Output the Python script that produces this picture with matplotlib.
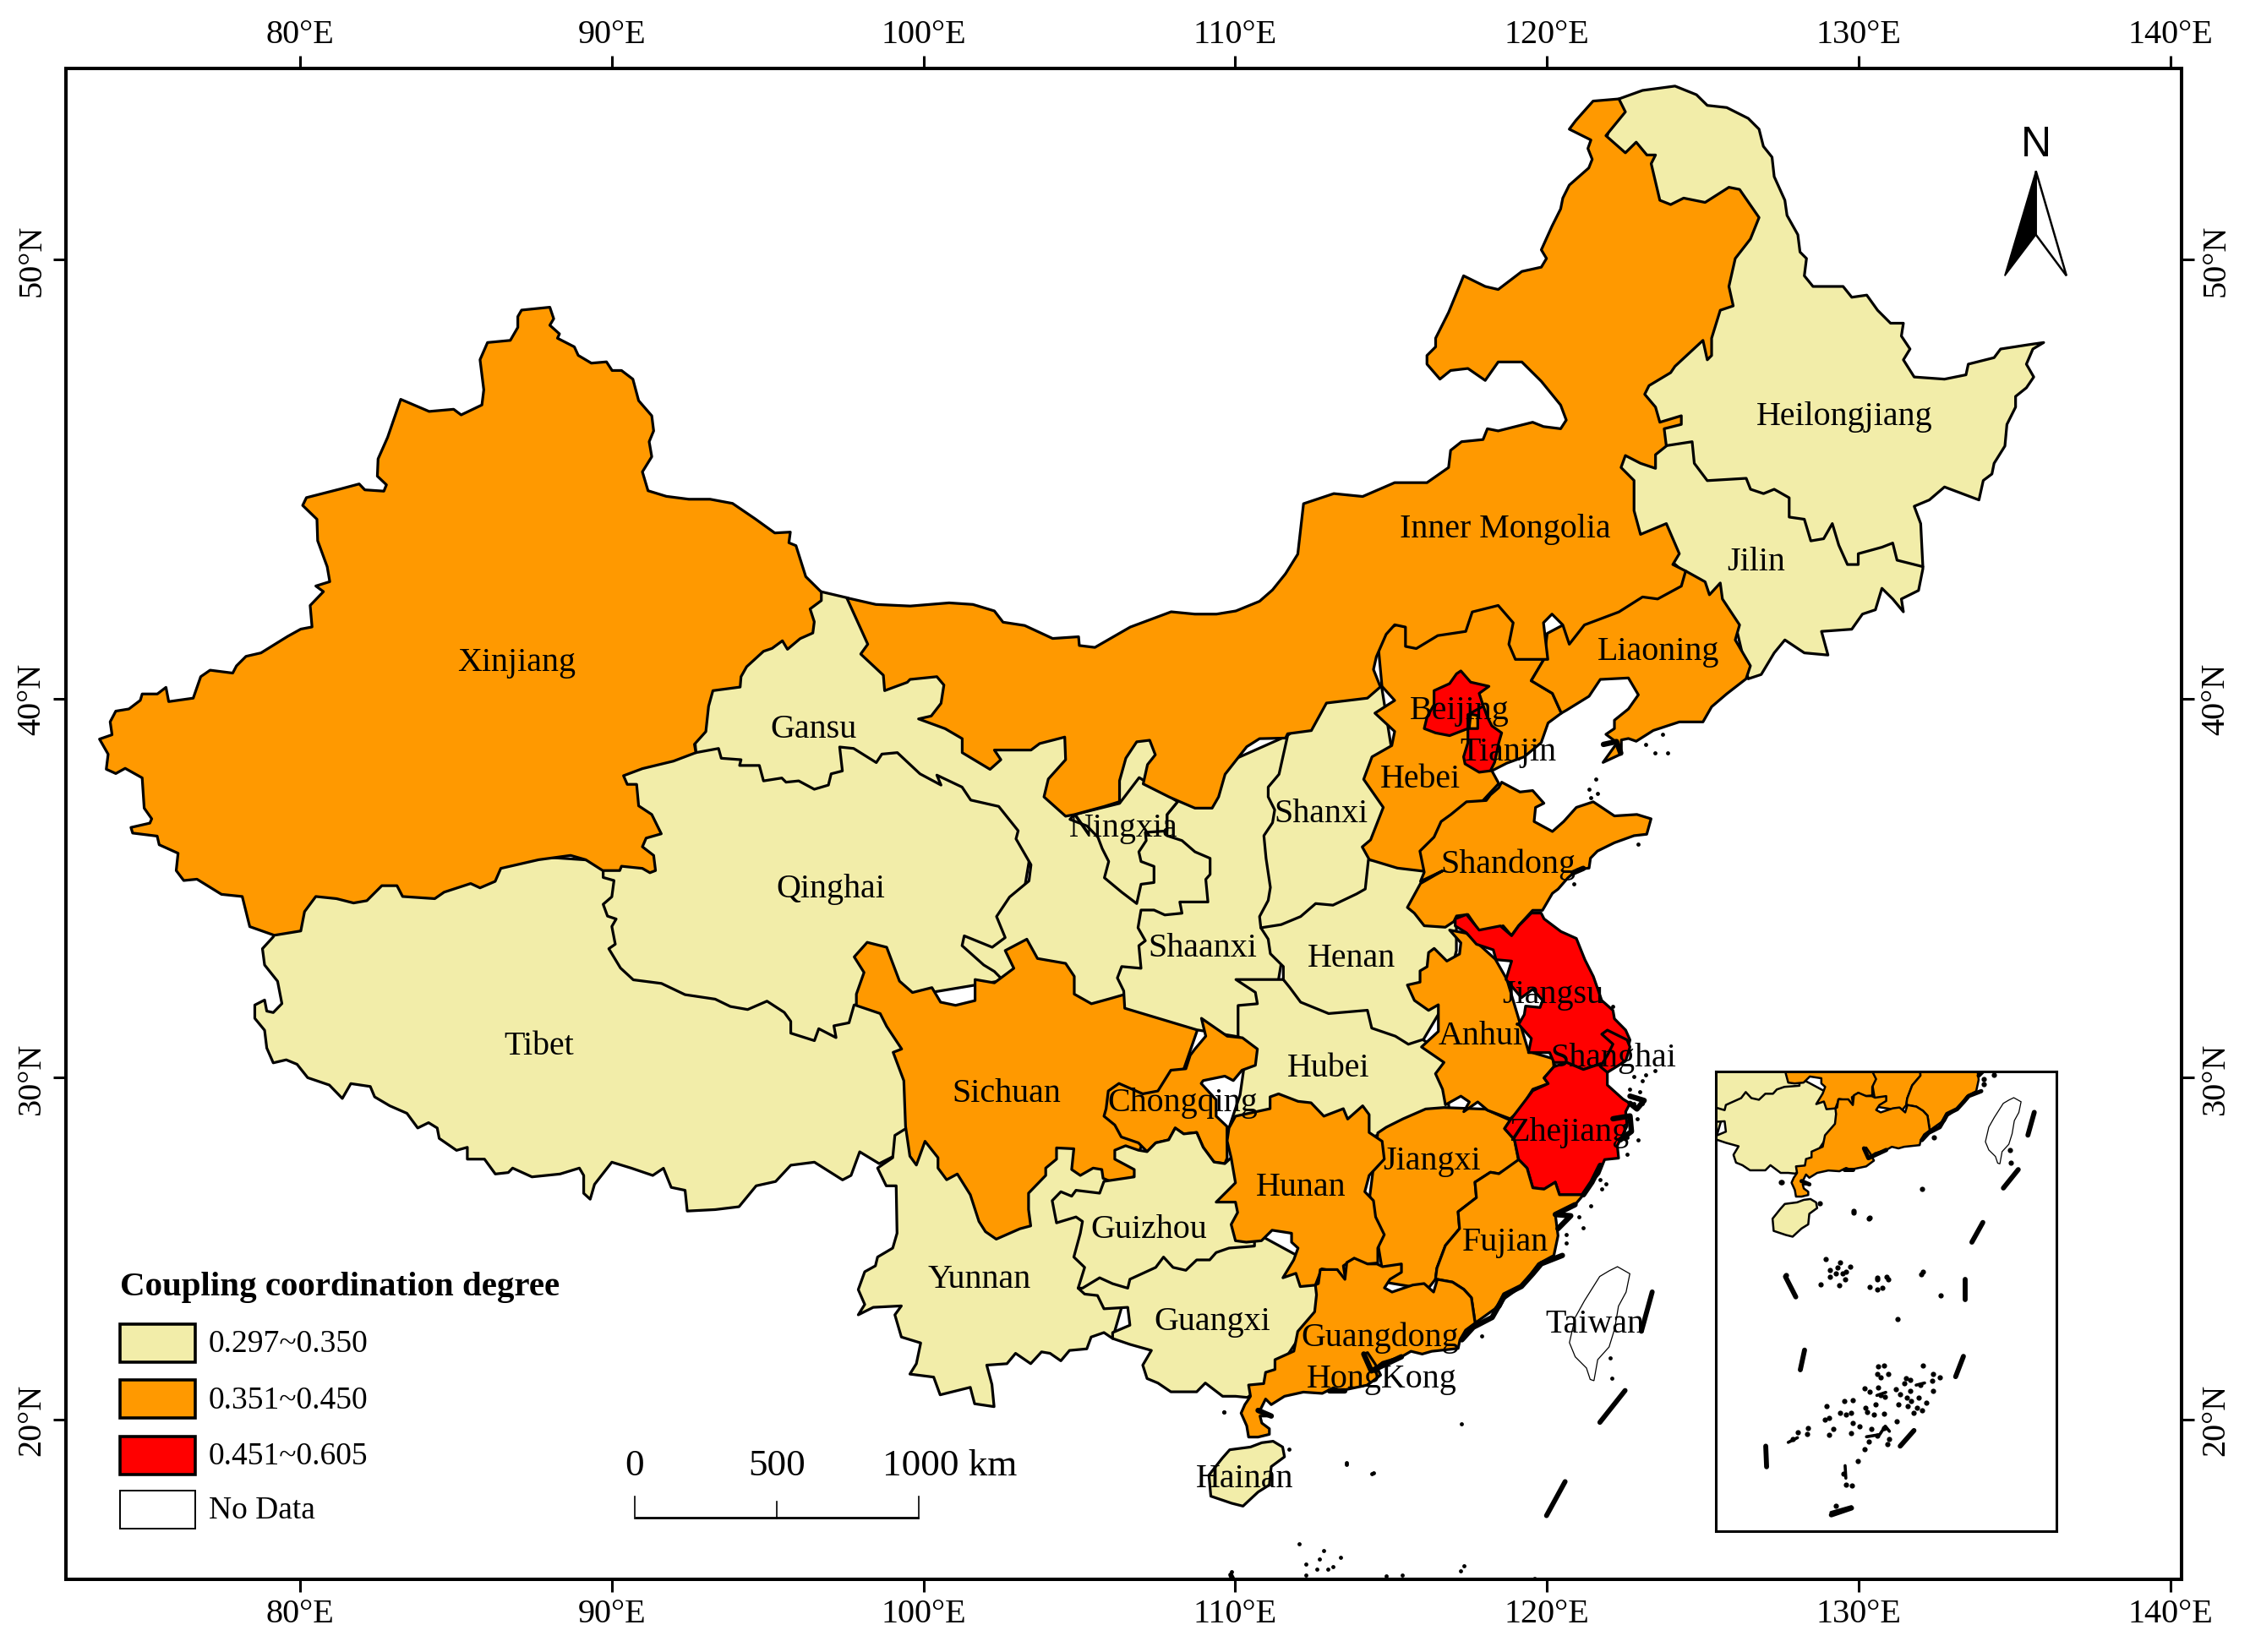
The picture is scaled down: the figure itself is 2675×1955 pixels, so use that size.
import math
import matplotlib
matplotlib.use("Agg")
import matplotlib.pyplot as plt
from matplotlib.patches import Polygon, Rectangle

# ---------- data: outlines in projected map units (Mercator, y grows southward) ----------
XINJIANG = [(361.7,215.7),(381.3,213.7),(384,221.7),(381.3,226.2),(388,232.2),(386.6,235.2),(398.3,241.2),(401,247.1),(410.1,252.5),(420.6,251.6),(424.5,257.6),(431,257.6),(438.9,263.6),(442.9,278.5),(452,289),(453.3,299.5),(450.2,307),(452,317.4),(445.5,327.9),(449.4,341),(462.1,344.9),(477.7,346.9),(492.4,346.9),(508,349.8),(523.7,360.5),(537.3,370.3),(548.1,369.7),(547.1,377.1),(552,379.1),(558.8,400.6),(569.6,411.3),(569.6,417.2),(561.8,423),(564.7,431.9),(563.7,439.7),(554.9,443.6),(546.1,451),(542.6,445.1),(535.4,450.4),(529.5,452.4),(517.8,463.1),(513.9,470),(513.3,477.2),(494.4,479.7),(491.4,490.5),(489.5,508.1),(481.6,516.9),(482.6,522.7),(467,528.6),(445.5,533.8),(432.4,538.7),(435,544.7),(441.5,544.7),(442.9,559.6),(452,565.6),(458.6,579),(448.1,582),(445.5,588),(453.3,594),(454.6,604.5),(450.7,606),(445.5,603),(431,601.5),(429.8,604.5),(418,604.5),(406.2,597),(395.7,594),(373.5,597),(347.3,603),(343.4,612),(332.9,616.5),(326.4,613.5),(308,619.5),(301.5,624),(279.2,622.5),(275.3,615),(264.8,615),(254.4,625.4),(245.2,627),(233.4,624),(219,622.5),(211.2,633),(208.6,646.4),(190.2,649.4),(173.2,643.4),(168,622.5),(153.6,621),(136.6,610.5),(127.4,611.4),(122.2,604.5),(123.5,592.5),(110.4,586.6),(109,580.6),(92,578.5),(90.8,574.6),(103.9,571.6),(105.2,568.6),(100,561.2),(98.6,540.2),(86.8,533.6),(80.3,537.2),(73.7,534.2),(75,523.8),(69,513.3),(77.7,510.3),(76.4,501.3),(80.3,493.9),(89.4,492.4),(97.3,486.4),(98.6,482),(109.1,482),(115.1,477.4),(117,487.3),(134,484.9),(139.2,470),(145.7,465.5),(161.4,467.5),(164,462.5),(170.6,455.9),(181,453.5),(199.4,442.1),(208.6,437),(216.4,435.5),(215.1,420.6),(224.3,411),(219,407.1),(228.7,404.1),(226.9,393.7),(220.3,375.7),(219.8,360.8),(209.9,351.2),(212.5,345.8),(236,339.8),(249.1,336.3),(253,340.4),(266.2,341.3),(268,336.9),(261.7,330.9),(262.2,318.9),(268.8,304),(277.9,277.6),(297.6,286),(314.6,284.5),(319.8,288.4),(334.2,281.5),(335.5,271),(332.9,250.1),(338.1,238.2),(353.9,236.7),(359.1,227.7),(359.1,220.2)]
TIBET = [(189.5,650.5),(182,658.7),(183.5,670),(192.5,681.3),(195.5,696.8),(189.5,703),(185,702),(183.5,694.3),(176.7,697.8),(176.7,707),(183.5,715.3),(185,727.6),(189.5,737.9),(198.5,735.8),(206,738.9),(213.4,748.2),(228.4,753.3),(237.4,762.6),(243.3,752.3),(256.8,754.3),(259.8,761.5),(270.3,767.7),(282.2,772.9),(289.7,783.1),(297.2,779.4),(303.2,783.1),(304.6,790.3),(316.6,798.6),(324.1,796.5),(324.1,804.7),(336,804.7),(343.5,815),(352.5,814),(355.5,810.9),(368.9,817),(388.4,815),(401.8,810.9),(404.8,816),(404.8,828.4),(409.3,832.5),(412.3,822.2),(424.3,806.8),(437.7,810.9),(452.7,816),(460.1,811),(465.5,824.3),(475.1,826.3),(476.6,840.7),(496,839.7),(512.5,837.7),(524.4,823.2),(537.9,820.2),(548.4,808.9),(564.8,806.8),(584.3,819.1),(590.2,816),(596.2,799.6),(609.7,807.8),(625,800),(640,760),(640,680),(600,640),(450,600),(300,590),(200,620)]
QINGHAI = [(418.3,605),(418.3,609.3),(425.8,611.4),(424.3,622.7),(418.3,627.9),(421.3,636.1),(427.3,638.1),(424.3,643.3),(426.7,655.6),(422.2,658.7),(430.3,672.1),(439.2,680.3),(458.7,682.8),(475.1,690.6),(496,693.7),(506.5,698.8),(518.5,700.9),(531.9,695.1),(543.9,702.9),(548.4,709.1),(548.4,717.3),(564.8,722.5),(567.8,714.2),(579.8,720.4),(578.3,712.2),(588.8,710.1),(592.3,697.8),(640,690),(700,680),(720,560),(600,500),(470,500),(420,530),(420,590)]
GANSU = [(565,410),(588,415.4),(620,440),(660,465),(720,500),(800,505),(850,540),(850,650),(800,660),(790,705),(700,700),(694,679),(689.6,674.5),(682.2,670),(667.2,656.6),(668.7,649.8),(688.1,657.7),(697.1,651),(691.1,636.4),(700.1,622.9),(713.6,611.7),(715,600.5),(704.6,582.5),(706.1,576.9),(692.6,560),(673.2,555.6),(667.2,546.6),(649.7,538.3),(652.6,545.2),(638,537.4),(622.3,522.7),(611.6,523.7),(607.7,529.6),(592,519.8),(582.3,518.8),(584.2,535.4),(576.4,537.4),(574.5,545.2),(564.7,548.1),(553.9,542.3),(545.1,543.2),(542.2,540.3),(529.5,542.3),(526.6,531.6),(512.9,531.6),(513.9,527.6),(500.2,526.6),(498.3,519.8),(482.6,522.7),(480,490),(520,440)]
SICHUAN = [(593.9,698.1),(610.4,703.7),(614.9,712.6),(625.3,728.3),(619.4,730.6),(626.8,750.3),(628,782),(631,802.6),(635.5,808.8),(641.5,792.3),(650.5,803.7),(650.5,810.9),(656.5,819),(663.9,815),(672.9,829.4),(678.9,847.9),(683.4,855),(690.9,860.2),(707.3,853),(714.8,851),(713.3,839.7),(713.3,828.3),(725.2,816),(725.2,810.9),(732.7,804.7),(732.7,796.9),(744.7,797.5),(743.2,811.9),(749.2,816),(758.1,810.9),(764.1,811.9),(765,818),(771.6,820.7),(786.6,817),(790,800),(800,770),(820,745),(833.2,707),(824.2,708.2),(810.7,700.3),(804.8,694.7),(788.3,694.7),(780.8,690.2),(768.9,693.6),(756.9,696.9),(745,690.2),(745,677.9),(739,668.9),(719.5,665.5),(712.1,652.1),(697.1,660),(703.1,672.3),(689.6,682.4),(676.2,680.1),(676.2,694.7),(662.7,698),(652.3,695.8),(646.3,685.7),(632.8,689.1),(623.8,681.2),(614.9,657.7),(601.4,654.3),(592.4,664.4),(599.2,675.2),(593.9,690.2)]
YUNNAN = [(629,783),(620.6,788.2),(619.1,803.7),(611.6,808.8),(608.6,810.9),(614.6,823.2),(621.5,823.2),(622.1,856.1),(619.1,866.4),(608.6,872.6),(607.1,878.7),(599.7,882.8),(595.2,895.2),(599.7,905.5),(595.2,912.7),(605.6,907.5),(625.1,906.5),(620.6,912.7),(625.1,928.1),(638.5,932.2),(635.5,946.6),(631,953.8),(647.5,955.9),(652,968.2),(672.9,963),(675.9,974.4),(689.4,976.4),(687.9,961),(684.3,947.6),(698.3,946.6),(704.3,939.4),(714.8,946.6),(722.3,938.4),(728.2,939.4),(735.7,944.6),(741.7,937.4),(753.7,936.3),(756.7,928.1),(765.6,925),(771.6,929.1),(780,900),(775,800),(700,775),(650,775)]
INNER_MONGOLIA = [(587.2,415.3),(607.4,419.9),(631.3,421),(658.2,418.8),(674.7,419.9),(689.6,424.4),(695.6,432.2),(710.6,434.5),(730,443.5),(748,442.3),(748.5,448.4),(759.3,449.7),(783.8,435.6),(798.8,430),(812.2,425),(828.7,426.6),(843.6,426.6),(857.1,424.4),(873.5,417.7),(882.5,409.8),(891.5,398.6),(900,385),(904,350),(925,343),(945,345),(967.2,335.4),(989.6,335.4),(1004.6,324.9),(1006,313),(1013.6,307),(1028.5,305.5),(1031.5,298),(1039,299.5),(1062.9,293.5),(1070.4,296.5),(1082.3,298),(1086.2,292),(1082.3,281.6),(1068.9,265.1),(1055.4,251.7),(1039,251.7),(1030,264.5),(1018,256.2),(1006,257.6),(998.6,263.6),(989.6,253.2),(989.6,247.2),(995.6,241.2),(995.6,235.2),(1004.6,217.3),(1015,191.9),(1030,199.3),(1039,201.4),(1055.4,188.9),(1068.9,185.9),(1072.5,179.9),(1068.9,173.9),(1076.3,157.5),(1082.3,145.5),(1083.8,138),(1088.3,129),(1101.8,117.1),(1104.2,111.1),(1101.2,103.6),(1103.3,97.7),(1088.3,90.2),(1092.8,84.2),(1104.8,70.7),(1122.7,69.2),(1127.2,78.2),(1113.7,94.7),(1127.2,106.6),(1134.7,99.2),(1142.1,108.1),(1148.1,108.1),(1145.1,114.1),(1151.1,139.5),(1158.6,142.5),(1167.6,138),(1182.5,141),(1199,130.5),(1206.4,132),(1219.9,151.5),(1213.9,166.4),(1203.4,179.9),(1199,199.3),(1202,212.8),(1193,215.8),(1187,235.2),(1187,247.2),(1184,250.2),(1181,236.7),(1161.6,254.7),(1158.6,259.1),(1143.6,268.1),(1140.6,274.1),(1148.1,283),(1151.1,293.5),(1166,289),(1166,295),(1154.1,298),(1155.6,310),(1148.1,316),(1148.1,325.5),(1137.7,322),(1127.2,316.6),(1124.2,324.9),(1133.2,333.9),(1133.2,354.8),(1137.7,371.3),(1155.6,363.8),(1164.6,384.7),(1160.1,392.2),(1169,396.7),(1166,407.2),(1149.6,416.1),(1139.1,414.7),(1122.7,425.1),(1098.8,434.1),(1088.3,447.5),(1083.8,434.1),(1076.3,426.6),(1070.4,432.6),(1073.4,458),(1050.9,458),(1046.4,447.5),(1049.4,432.6),(1039,420.6),(1021,425.1),(1016.5,438.6),(997.1,441.5),(982.2,450.5),(974.7,449),(974.7,435.6),(967.2,434),(961.3,440.6),(954.5,456.2),(952.5,465),(957.3,477.1),(948.3,484.9),(919.9,488.3),(909.4,507.4),(893,509.6),(891.5,512.6),(873.5,513),(864.6,518.6),(849.6,537.7),(845.1,553.4),(840.6,561.2),(828.7,561.2),(818.2,556.7),(810.7,553.4),(792.8,544.4),(795.8,531),(801.2,524.2),(797.3,514.1),(788.3,515.2),(780.8,526.5),(776.4,542.2),(776.4,556.7),(765.9,560),(745,565.7),(739,566.8),(724,553.4),(727,541),(739,527.6),(738.4,511.9),(721,516.4),(715,520.9),(689.6,520.9),(694.1,527.6),(686.6,534.3),(667.3,522.7),(667.3,513),(655.5,506.1),(637,499.3),(645.8,497.3),(652.6,488.5),(654.6,475.8),(649.7,470),(631.1,471.9),(629.2,473.9),(613.5,479.7),(612.6,469),(596.9,454.3),(601.8,447.5)]
HEILONGJIANG = [(1122.7,69.2),(1139.1,63.3),(1161.6,60.3),(1176.5,66.3),(1184,73.7),(1197.5,75.2),(1212.4,82.7),(1219.9,90.2),(1222.9,102.1),(1228.9,109.6),(1230.4,123.1),(1237.8,139.5),(1239.3,150),(1246.8,163.4),(1248.3,175.4),(1252.8,179.9),(1251.3,191.9),(1257.3,199.3),(1278.2,199.3),(1284.2,206.8),(1294.6,205.3),(1302.1,215.8),(1311.1,224.8),(1320,224.8),(1318.6,233.7),(1324.6,242.7),(1320,250.2),(1327.5,262.1),(1348.5,263.6),(1363.4,260.6),(1365,253.2),(1382.9,248.7),(1387.4,242.7),(1406.8,239.7),(1417.3,238.2),(1409.8,242.7),(1405.3,253.2),(1410.4,262.1),(1405.3,269.6),(1397.8,275.6),(1397.8,283),(1391.8,295),(1390.4,310),(1382.9,322),(1381.4,329.4),(1375.4,333.9),(1372.4,347.4),(1348.5,338.4),(1338,347.4),(1327.5,351.8),(1332,363.8),(1333.5,393.7),(1250,395),(1150,330),(1120,200),(1113,100)]
JILIN = [(1154,310),(1173.5,307),(1175,322),(1184,334),(1211,332.4),(1214,340),(1223,343),(1230.4,340),(1240.8,345.9),(1240.8,359.3),(1251.3,360.8),(1255.8,375.8),(1264.7,374.3),(1270.7,363.8),(1275.2,378.8),(1281.2,392.2),(1288.7,392.2),(1288.7,384.7),(1305.1,380.2),(1312.6,377.3),(1315.6,389.2),(1333.5,393.7),(1333.5,395.2),(1330.5,410.2),(1318.6,416.1),(1320,425),(1312.6,416.1),(1305.1,408.7),(1300.6,423.6),(1291.6,426.6),(1284.2,437.1),(1263.2,438.6),(1267.7,455),(1251.3,453.5),(1237.8,444.5),(1230.4,453.5),(1221.4,468.5),(1212.4,471.5),(1205,440),(1165,395),(1125,360),(1115,330),(1120,310)]
LIAONING = [(1169,396.7),(1182.5,404.2),(1185.5,413.2),(1193,405),(1194.5,416.1),(1206.4,434.1),(1203.4,444.5),(1213.9,462.5),(1210.9,471.5),(1197.5,481.9),(1187,490.9),(1181,501.4),(1164.6,501.4),(1146.6,507.3),(1134.7,514.8),(1129.3,512.9),(1124.4,513.9),(1124.4,523.6),(1111.7,529.5),(1121.5,515.8),(1113.7,510),(1119.6,506),(1119.6,500.2),(1129.3,492.4),(1136.2,482.6),(1129.3,470.9),(1109.8,471.9),(1102,483.6),(1086.3,493.3),(1082.8,495.3),(1076.6,481.6),(1061.9,472.8),(1070.7,458),(1073,440),(1120,415)]
HEBEI = [(958.4,476.7),(955,440),(1000,420),(1050,420),(1075,455),(1070.7,458),(1061.9,472.8),(1076.6,481.6),(1082.8,495.3),(1073.6,502.1),(1068.8,515.8),(1057,525.6),(1045,530),(1034.6,535.3),(1039.4,544.1),(1020,565),(1000,590),(987.7,605),(969.1,602.8),(949.6,596.9),(944.7,588.1),(950.5,583.2),(959.3,560.7),(945.7,541.2),(951.5,525.6),(965.2,517.8),(967.2,508),(953.5,495.3),(967.2,486.5)]
BEIJING = [(1013.1,466),(1019.9,473.8),(1032.6,476.7),(1025.8,481.6),(1028.7,490.4),(1021.9,495.3),(1018,496.3),(1018,506),(1005.3,510.9),(995.5,509),(987.7,506),(989.6,498.2),(994.5,489.4),(994.5,479.7),(1005.3,474.8),(1010.1,468)]
TIANJIN = [(1019.9,495.3),(1028.7,490.4),(1031.6,498.2),(1034.6,504.1),(1041.4,509),(1039.4,515.8),(1036.5,529.5),(1033.6,535.3),(1025.8,536.3),(1016,530.5),(1015,525.6),(1018,515.8),(1018,506)]
SANHE = [(1019.9,496),(1024.8,497),(1024.8,506),(1018.9,506)]
SHANXI = [(893,510.8),(890,524.2),(887,537.7),(879.5,546.6),(879.5,553.4),(884,562.4),(882.5,571.3),(876.5,580.3),(878,596),(881,616.2),(879.5,625.2),(873.5,636.4),(874.4,644.2),(900,660),(960,640),(965,520),(958,476),(920,488)]
SHAANXI = [(816.7,556.7),(809.3,565.7),(809.3,580.3),(819.7,583.7),(828.7,591.5),(839.2,596),(839.2,607.2),(836.2,610.6),(837.7,626.3),(818.2,626.3),(819.7,634.1),(807.8,635.3),(800.3,631.9),(791.3,631.9),(789.2,644.2),(794.3,653.2),(789.8,656.6),(791.3,672.3),(777.9,671.1),(774.9,679),(779.3,688),(780,700),(830,715),(860,720),(885,690),(890,660),(880,600),(895,510),(850,530)]
NINGXIA = [(776.4,557.9),(745,565.7),(742,569),(753.9,573.6),(761.4,581.4),(764.4,589.3),(768.9,598.2),(765.9,609.5),(777.9,619.5),(788.3,627.4),(791.3,614),(800.3,612.8),(800.3,601.6),(791.3,598.2),(789.8,591.5),(794.9,583.7),(794.3,578),(809.3,577),(809.3,565.7),(816.7,556.7),(790,540)]
HENAN = [(874.4,644.2),(888.5,642),(902,636.4),(912.4,627.4),(924.4,628.5),(940.8,620.7),(946.8,617.3),(949,597),(990,600),(1000,630),(1010,640),(1010,660),(1000,700),(987.2,721.6),(976.7,725),(967.7,719.4),(951.3,713.8),(948.3,701.4),(921.4,703.7),(902,695.8),(894.5,685.7),(890,680.1),(890,671.1),(881,662.2),(879.5,652.1)]
HUBEI = [(890,680.1),(857.1,680.1),(870.6,689),(872,696.9),(858.6,698.1),(858.6,719.4),(865,725),(860,760),(850,790),(950,790),(1005,770),(1000,730),(987,722),(960,700),(900,690)]
CHONGQING = [(833.2,707),(851.1,719.4),(861.6,720.5),(872,728.3),(870.6,739.6),(861.3,743),(855.3,750.2),(849.4,747.1),(834.4,750.2),(833,752.2),(843.4,763.5),(843.4,774.9),(850.9,782),(851,804),(849.4,807.8),(841.9,806.7),(834.4,796.5),(829.9,786.2),(820.9,787.2),(815,783.1),(810.5,791.3),(801.5,793.4),(795.5,799.5),(789.5,793.4),(777.6,789.3),(773.1,781),(765.6,774.9),(767.1,769.7),(768.6,757.4),(776,752.2),(792.5,759.4),(803,757.4),(812,743),(822.4,742),(825.4,732.7),(828.7,728.3),(836.2,719.4)]
GUIZHOU = [(765.6,820.1),(786.6,817),(786.6,811.9),(773.1,804.7),(773.1,798.5),(780.6,795.4),(789.5,798.5),(795.5,799.5),(801.5,793.4),(810.5,791.3),(815,783.1),(820.9,787.2),(829.9,786.2),(834.4,796.5),(841.9,806.7),(849.4,807.8),(853.8,803.7),(870,840),(870,865),(852.3,866.4),(843.4,869.5),(838.9,874.6),(829.9,874.6),(822.4,881.8),(813.5,879.8),(806.9,872.6),(801.5,879.8),(783.6,888),(782.1,894.2),(771.6,891.1),(762.6,887),(750.7,894.2),(747.7,894.2),(752.2,879.8),(744.7,872.6),(749.2,856.1),(750.7,847.9),(746.2,844.8),(732.7,848.9),(729.7,833.5),(735.7,827.3),(743.2,830.4),(746.2,826.3),(762.6,828.3)]
GUANGXI = [(747.7,894.2),(752.2,898.3),(761.1,899.3),(765.6,908.5),(782.1,907.5),(783.6,919.9),(771.6,925),(771.6,929.1),(783.6,933.2),(798.5,937.4),(792.5,947.6),(795.5,956.9),(803,960),(812,966.1),(829.9,966.1),(835.9,960),(847.9,969.2),(856.8,969.2),(865,970),(880,960),(920,900),(915,880),(860,850),(800,860)]
HUNAN = [(852.3,783.1),(856.8,774.9),(880.8,769.7),(880.8,761.5),(886.7,759.4),(900.2,764.6),(909.2,765.6),(918.1,774.9),(931.6,769.7),(934.6,776.9),(945,767.7),(949.5,773.8),(949.5,786.2),(958.5,792.3),(960,804.7),(949.5,816),(946.5,827.3),(952.5,833.5),(954,844.8),(960,857.1),(955.5,866.4),(955.5,876.7),(945,877.7),(939,873.6),(931.6,878.7),(933.1,888),(927.1,888),(927.1,882.8),(916.6,880.8),(912.2,892.1),(901.7,893.1),(898.7,883.9),(889.7,887),(897.2,874.6),(900.2,866.4),(895.7,862.3),(895.7,856.1),(882.2,854),(874.8,861.3),(864.3,862.3),(856.8,861.3),(853.8,850),(858.3,841.7),(856.8,834.5),(843.4,834.5),(856.8,821.1),(853.8,803.7),(851,792)]
JIANGXI = [(955.5,786.5),(961.3,782.6),(973.1,776.7),(988.7,769.9),(1001.4,768.9),(1030,770),(1047.3,777.7),(1043.4,783.5),(1050.3,791.3),(1053.2,806),(1039.5,814.8),(1033.6,813.8),(1022.9,820.7),(1023.9,831.4),(1011.2,841.2),(1012.2,852.9),(1002.4,864.6),(996.5,880.3),(995.5,888),(990,895),(960,890),(950,830)]
ANHUI = [(1005.3,645.8),(1013.1,654.6),(1012.2,662.4),(1003.4,667.3),(994.6,658.5),(990.7,661.4),(989.7,671.2),(984.8,674.1),(984.8,681.9),(976,683.9),(980.9,694.6),(990.7,701.5),(997.5,697.6),(997.5,716.1),(985.8,726.9),(1001.4,737.6),(995.5,745.4),(1000.4,756.2),(1002.4,767),(1013.1,761),(1019,765),(1015.1,771.8),(1024.8,765),(1031.7,770.8),(1047.3,776.7),(1053.2,771.8),(1063,756.2),(1073.7,752.3),(1070.8,748.4),(1077.6,740.6),(1077,735),(1060,730),(1045,680),(1037,666),(1017,648)]
SHANDONG = [(1039.4,547),(1033.6,552),(1030.7,555.9),(1017,556.8),(1006.2,565.6),(999.4,570.5),(994.5,581.3),(984.7,591),(987.7,605.7),(985.1,612),(1000.4,604.7),(985.1,613.5),(976,630.1),(980.8,634),(987.7,642.8),(1002.3,643.8),(1008.2,639.9),(1010.1,636),(1018,635),(1026.7,647.7),(1033.6,646.7),(1042.4,642.8),(1048.2,649.6),(1053.1,642.8),(1062.9,632.1),(1069.7,632.1),(1076.6,620.3),(1080.5,617.4),(1087.3,609.6),(1094.2,603.7),(1102,602.8),(1103,595.9),(1107.8,591),(1119.6,585.2),(1133.2,580.3),(1142,579.3),(1145,568.6),(1135.2,565.6),(1119.6,566.6),(1110.8,560.7),(1104.9,556.8),(1093.2,560.7),(1084.4,570.5),(1076.6,577.4),(1063.9,570.5),(1064.9,560.7),(1070.7,557.8),(1062.9,549),(1054.1,550),(1041.4,543.2)]
JIANGSU = [(1009.2,638),(1017,635),(1025.8,645.8),(1040.5,642.9),(1048.3,649.7),(1053.2,642.9),(1062,634),(1068.8,634),(1070.8,638),(1082.5,646.8),(1093.2,651.6),(1099.1,666.3),(1105,678),(1110.8,694.6),(1118.6,701.5),(1119.6,707.3),(1127.4,715.2),(1130.4,722),(1128.4,729.8),(1124.5,736.6),(1109.8,738.6),(1098.1,742.5),(1086.4,737.6),(1077.6,737.6),(1074.7,730.8),(1060,730.8),(1062,721),(1053.2,711.2),(1057.1,704.4),(1058,698.5),(1068,699.5),(1069.8,694.6),(1063,686.8),(1055.1,692.7),(1044.4,680),(1048.3,667.3),(1037.5,666.3),(1035.6,659.5),(1023.9,655.6),(1017,647.7),(1009.2,642.9)]
SHANGHAI = [(1110.8,718),(1114.7,715.2),(1128.4,722),(1130.4,726.9),(1127.4,736.6),(1114.7,744.5),(1109.8,740.5),(1114.7,732.7),(1118.6,724.9)]
ZHEJIANG = [(1047.3,777.7),(1063,757.2),(1073.7,752.3),(1070.8,748.4),(1077.6,740.6),(1086.4,737.6),(1098.1,742.5),(1109.8,738.6),(1114.7,744.5),(1114.7,753.3),(1125.5,763),(1130.4,766),(1127.4,771.8),(1128.4,781.6),(1125.5,787.5),(1121.6,795.3),(1122.5,804),(1112.8,805),(1108.9,814.8),(1102,822.6),(1098.1,829.4),(1081.5,829.4),(1078.6,820.7),(1070.8,825.5),(1063,824.6),(1059,810.9),(1053.2,805),(1050.3,791.3),(1043.4,783.5)]
FUJIAN = [(1053.2,805),(1059,810.9),(1063,824.6),(1070.8,825.5),(1078.6,820.7),(1081.5,829.4),(1098.1,829.4),(1092.3,836.3),(1078.6,843.1),(1080.5,857.8),(1077.6,871.5),(1066.9,877.3),(1055.1,893),(1041.5,902.7),(1036.6,908.6),(1023,918.4),(1020.4,900.8),(1015.1,895),(1007.3,890),(996.8,888.1),(995.5,888),(996.5,880.3),(1002.4,864.6),(1012.2,852.9),(1011.2,841.2),(1023.9,831.4),(1022.9,820.7),(1033.6,813.8),(1039.5,814.8)]
GUANGDONG = [(912.2,892),(914.3,891),(915.6,881.3),(927.4,881.3),(932.7,888.1),(934,876.4),(939.2,873.4),(948.4,877.4),(954.9,877.4),(958.8,879.3),(971.9,877.4),(971.9,883.2),(964,888),(960.1,894),(965.4,896.9),(979.8,892),(987.6,891),(994.2,896.9),(996.8,888.1),(1007.3,890),(1015.1,895),(1020.4,900.8),(1023,918.4),(1016.4,923.3),(1012.5,930),(1011.2,936),(992.9,938),(986.3,939.9),(978.5,938),(971.9,941.8),(958.8,945.7),(951,951.6),(945.8,939.9),(948.4,938.9),(953.6,946.7),(957.5,954.5),(948.4,961.4),(930,965.3),(924.8,963.3),(917,967.2),(903.9,966.3),(890.8,969.2),(881.6,975),(877.7,971.1),(873.8,979),(880.3,982.9),(873.8,982.9),(875.1,987.8),(880.3,991.7),(880.3,995.6),(872.5,997.5),(865.9,997.5),(864.6,989.7),(860.7,980.9),(863.3,975),(867.2,969.2),(865.9,961.4),(876.4,960.4),(877.7,952.6),(884.2,950.6),(884.2,943.8),(897.3,937.9),(900,924.2),(911.7,910.6),(913,898.8)]
HAINAN = [(882.9,1000.4),(889.5,1004.4),(890.8,1011.2),(881.6,1018),(880.3,1030.7),(872.5,1035.6),(862,1045.4),(854.1,1043.4),(839.7,1038.5),(838.4,1023.9),(847.6,1012.2),(852.8,1006.3),(867.2,1004.4),(875.1,1001.4)]
TAIWAN = [(1121.7,879.3),(1130.3,884.2),(1127.7,896.9),(1122.4,906.7),(1119.8,922.3),(1115.9,935),(1108,943.8),(1105.4,958.4),(1102.8,957.5),(1100.2,949.6),(1092.4,941.8),(1088.4,932),(1092.4,914.5),(1098.9,902.8),(1109.4,886.1),(1115.9,882.2)]

NINE_DASHES = [[(1145.8,896.8),(1138.3,924.1)],[(1127,965.2),(1109.5,987.3)],[(1085.4,1028.4),(1072.5,1052)],[(1064.3,1096),(1064.3,1120.4)],[(1062.6,1188.4),(1053.4,1212.7)],[(1004.5,1277),(988.3,1295.7)],[(931.2,1369.7),(907.4,1377.9)],[(830.4,1295.7),(831.4,1320.4)],[(876,1180.9),(871,1204.5)],[(853.5,1093.1),(865.7,1117.4)]]
COAST_FRINGE = [[(1130.4,761),(1140.2,764),(1135.2,769.9),(1130.4,766)],[(1118.6,776.7),(1130.4,774.7),(1131.4,785.5),(1123.5,791.4)],[(1109.8,809),(1104,820.7),(1098.1,829.4)],[(1092.3,836.3),(1078.6,843.1),(1089.3,844),(1080.5,852.9)],[(1083.5,871.5),(1068.8,877.3),(1063,884.2),(1055.1,893),(1043.4,898.8),(1039.5,906.6)],[(1042.6,900.8),(1034.8,914.5),(1021.7,921.3),(1013.8,930)],[(922.2,965.3),(932.7,965.3)],[(872.5,979),(881.6,982.9)],[(945.8,939.9),(951,951.6),(971.9,941.8)],[(1112,517),(1121,515),(1124,523)],[(1091,606),(1098,603)]]
REEF_LINES = [[(948.7,1284.5),(964.2,1281.9),(970.8,1271.8),(975.7,1278)],[(960.9,1235.1),(971.4,1231.4)],[(856.8,1291.2),(867.7,1285.6)],[(923.6,1319),(924.5,1334)],[(1007,1222.8),(1017,1220.2)],[(907,1375),(931,1368)]]
ISLANDS = [(900.8,1071.8),(918,1076.3),(905.4,1085.6),(924.5,1087.5),(905.4,1093.1),(923.6,1096.1),(913,1089.3),(929.5,1081.1),(894.8,1102.4),(917,1103.5),(952.6,1105),(960.9,1096.8),(972.4,1093.1),(974.1,1096.8),(960.9,1108.8),(967.5,1106.2),(1013.7,988.4),(933.8,1016.5),(951.6,1023.2),(1013,1090.1),(1036.2,1115.9),(985,1143.5),(1116.8,942.4),(1117.8,956.6),(969.1,1199.6),(962.5,1200.7),(960.9,1209),(974.1,1209),(965.8,1213.8),(962.5,1225.8),(965.8,1235.1),(970.1,1237),(952.6,1230.6),(946.7,1226.9),(1014.7,1199.6),(994.9,1214.6),(1000.5,1216.4),(992.9,1220.9),(1012.1,1222.8),(1026.9,1209),(1035.2,1213.8),(1025.9,1217.2),(1026.9,1229.5),(983.3,1227.7),(988.3,1234),(999.9,1229.5),(996.2,1238.1),(1009.8,1237.8),(1001.2,1241.5),(1018.7,1243.7),(986.3,1246.3),(997.2,1247.5),(1008.1,1250.1),(1013.7,1253.1),(1004.5,1256.4),(932.8,1240.7),(922.9,1241.9),(901.4,1248.2),(959.2,1246.3),(947.7,1250.1),(949.3,1254.6),(957.6,1258.3),(969.1,1256.8),(918,1256.4),(924.5,1257.6),(930.5,1256.4),(904.7,1262),(899.8,1264.3),(932.1,1267.6),(940.1,1272.5),(931.1,1280),(954.3,1275.5),(969.1,1274.4),(984,1265.8),(960.9,1283.7),(975.7,1287.5),(973.1,1293.8),(951,1290.1),(946,1299.4),(938.4,1313.6),(868.4,1279.2),(880,1274.4),(879,1280.7),(904.7,1281.9),(909.7,1275.1),(861.8,1287.5),(924.5,1341.7),(931.8,1342.4),(921.9,1328.6),(913,1366.7),(848.6,980.2),
 (1118.6,698.5),(1141.1,746.4),(1139.2,750.3),(1148,743.5),(1133.3,747.4),(1130.4,756.2),(1137.2,758.1),(1133.3,766),(1139.2,766),(1135.2,776.7),(1136.2,791.4),(1128.4,801.1),(1109.8,818.7),(1110.8,825.5),(1113.7,821.6),(1103,837.3),(1095.2,845),(1098.1,852.5),(1086.4,856.8),(1086.4,862.7),(1128.4,789.4),(1141,516.8),(1147.9,522.6),(1156.7,522.6),(1152.8,510),(1106.9,541.2),(1102,548),(1103,553.9),(1107.8,551),(1091.2,613.5),(1136.2,586.2),(1027.7,927.2),(934,1015),(952.3,1022.3),(893.9,1005.7),(848.9,980),(854,1091),(915,1082),(920.9,1089.4),(961.5,1094),(1015,1087)]

LOW, MID, HIGH = "#F2EDA9", "#FF9900", "#FF0000"
LAYERS = [(TIBET,LOW),(YUNNAN,LOW),(QINGHAI,LOW),(GANSU,LOW),(SICHUAN,MID),(XINJIANG,MID),(SHAANXI,LOW),(NINGXIA,LOW),(SHANXI,LOW),(HUBEI,LOW),(HENAN,LOW),(HEBEI,MID),(CHONGQING,MID),(GUANGXI,LOW),(GUIZHOU,LOW),(JIANGXI,MID),(HUNAN,MID),(ANHUI,MID),(SHANDONG,MID),(HEILONGJIANG,LOW),(JILIN,LOW),(LIAONING,MID),(INNER_MONGOLIA,MID),(JIANGSU,HIGH),(ZHEJIANG,HIGH),(SHANGHAI,HIGH),(FUJIAN,MID),(GUANGDONG,MID),(BEIJING,HIGH),(TIANJIN,HIGH),(SANHE,MID),(HAINAN,LOW)]

LABELS = ["Xinjiang","Gansu","Qinghai","Tibet","Inner Mongolia","Heilongjiang","Jilin","Liaoning","Beijing","Tianjin","Hebei","Shanxi","Ningxia","Shandong","Shaanxi","Henan","Jiangsu","Anhui","Shanghai","Hubei","Sichuan","Chongqing","Zhejiang","Jiangxi","Hunan","Fujian","Guizhou","Yunnan","Guangxi","Guangdong","Taiwan","HongKong","Hainan"]
LABEL_X = [358,564,576,374,1044,1279,1218,1150,1012,1046,985,916,779,1046,834,937,1077,1027,1119,921,698,820,1088,993,902,1044,797,679,841,957,1106,958,863]
LABEL_Y = [460,506,617,726,367,289,390,452,493,522,541,565,575,600,658,665,690,719,734,741,759,765,786,806,824,862,853,888,917,928,919,957,1026]

LON_TICKS = [80,90,100,110,120,130,140]
LAT_TICKS = [20,30,40,50]
LEGEND_TITLE = "Coupling coordination degree"
LEGEND_TEXT = ["0.297~0.350","0.351~0.450","0.451~0.605","No Data"]
LEGEND_COLORS = [LOW, MID, HIGH, "white"]
SCALE_KM = [0,500,1000]

# ---------- projection ----------
def proj_x(lon):
    return 208 + 21.62*(lon-80)
def proj_y(lat):
    m = math.log(math.tan(math.pi/4 + math.radians(lat)/2))
    return 748 - 1230*(m - math.log(math.tan(math.pi/4 + math.radians(30)/2)))

SERIF = "Liberation Serif"
U_W, U_H = 1568.0, 1146.6
fig = plt.figure(figsize=(26.75,19.56), dpi=100, facecolor="white")
L,R,T,B = 46,1513,48,1096
ax = fig.add_axes([L/U_W, 1-B/U_H, (R-L)/U_W, (B-T)/U_H])
ax.set_xlim(L,R); ax.set_ylim(B,T)

def draw_map(a, lw, dot):
    for pts,col in LAYERS:
        a.add_patch(Polygon(pts, closed=True, facecolor=col, edgecolor="black", lw=lw, joinstyle="round"))
    a.add_patch(Polygon(TAIWAN, closed=True, facecolor="white", edgecolor="black", lw=0.9))
    for seg in COAST_FRINGE:
        a.plot(*zip(*seg), color="black", lw=lw*2.0, solid_capstyle="round", solid_joinstyle="round")
    for seg in NINE_DASHES:
        a.plot(*zip(*seg), color="black", lw=4.2, solid_capstyle="round")
    for seg in REEF_LINES:
        a.plot(*zip(*seg), color="black", lw=2.6, solid_capstyle="round")
    xs,ys = zip(*ISLANDS)
    a.scatter(xs, ys, s=dot, color="black", linewidths=0, zorder=3)

draw_map(ax, 2.3, 12)

for name,x,y in zip(LABELS,LABEL_X,LABEL_Y):
    ax.text(x,y,name,ha="center",va="center",fontsize=28.8,family=SERIF,color="black",zorder=5)

ax.set_xticks([proj_x(v) for v in LON_TICKS]); ax.set_xticklabels([f"{v}°E" for v in LON_TICKS])
ax.set_yticks([proj_y(v) for v in LAT_TICKS]); ax.set_yticklabels([f"{v}°N" for v in LAT_TICKS])
ax.tick_params(axis="both", which="major", length=11, width=2.2, top=True, right=True,
               labeltop=True, labelright=True, labelsize=29, pad=5)
ax.tick_params(axis="y", labelrotation=90)
for t in ax.yaxis.get_major_ticks():
    t.label1.set_va("center"); t.label2.set_va("center"); t.label1.set_family(SERIF); t.label2.set_family(SERIF)
for t in ax.xaxis.get_major_ticks():
    t.label1.set_family(SERIF); t.label2.set_family(SERIF)
for s in ax.spines.values():
    s.set_linewidth(2.9)

# inset
IL,IR,IT,IB = 1190,1426,744,1063
axi = fig.add_axes([IL/U_W, 1-IB/U_H, (IR-IL)/U_W, (IB-IT)/U_H], zorder=4)
axi.set_xlim(771.9,1171.6); axi.set_ylim(1397.7,848.2)
draw_map(axi, 1.8, 20)
axi.set_xticks([]); axi.set_yticks([])
for s in axi.spines.values():
    s.set_linewidth(2.2)

# legend
ax.text(83.5,893,LEGEND_TITLE,ha="left",va="center",fontsize=29.5,fontweight="bold",family=SERIF)
for i,(txt,col) in enumerate(zip(LEGEND_TEXT,LEGEND_COLORS)):
    y0 = [919,958,997,1034.5][i]
    lw = 2.6 if i<3 else 1.4
    ax.add_patch(Rectangle((83.5,y0),52,26.5,facecolor=col,edgecolor="black",lw=lw,zorder=5))
    ax.text(144.7,y0+13.5,txt,ha="left",va="center",fontsize=27,family=SERIF)

# scale bar
sx = [440.2+v*(637-440.2)/1000 for v in SCALE_KM]
ax.plot([sx[0],sx[-1]],[1053.5,1053.5],color="black",lw=2.0,solid_capstyle="butt",zorder=5)
for x,top in zip(sx,[1038.5,1042.4,1038.5]):
    ax.plot([x,x],[1054,top],color="black",lw=1.2,zorder=5)
ax.text(sx[0],1017,f"{SCALE_KM[0]}",ha="center",va="center",fontsize=32.5,family=SERIF)
ax.text(sx[1],1017,f"{SCALE_KM[1]}",ha="center",va="center",fontsize=32.5,family=SERIF)
ax.text(sx[2]-25,1017,f"{SCALE_KM[2]} km",ha="left",va="center",fontsize=32.5,family=SERIF)

# north arrow
ax.text(1412,101,"N",ha="center",va="center",fontsize=36,family="Liberation Sans")
ax.add_patch(Polygon([(1411.9,119.2),(1390.3,191.9),(1411.9,163.4)],closed=True,facecolor="black",edgecolor="black",lw=1.2))
ax.add_patch(Polygon([(1411.9,119.2),(1433.1,191.9),(1411.9,163.4)],closed=True,facecolor="white",edgecolor="black",lw=1.8))

fig.savefig("out.png", dpi=100, facecolor="white")
